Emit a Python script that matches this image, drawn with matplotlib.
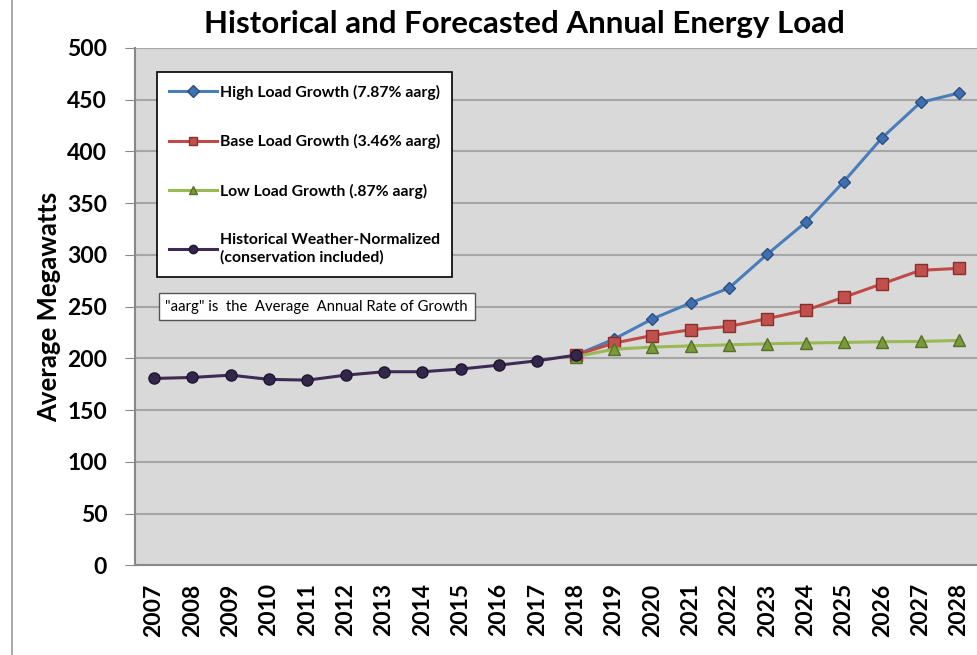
import numpy as np
import matplotlib.pyplot as plt
from matplotlib.lines import Line2D

plt.rcParams['font.family'] = ['Lato', 'DejaVu Sans']

years = list(range(2007, 2029))
hist_years = list(range(2007, 2019))
fc_years = list(range(2018, 2029))

historical = [180.5, 181.5, 183.7, 179.6, 178.9, 183.7, 187, 187, 189.6, 193.4, 197.6, 203]
high = [203, 218.5, 238, 253.5, 267.8, 300.5, 331.3, 370.8, 413.2, 447.2, 456.3]
base = [203, 214.7, 222, 227.6, 230.8, 238.3, 246.4, 259, 272, 285, 286.9]
low = [201.5, 208.8, 210.8, 212, 213, 214, 214.7, 215.3, 216, 216.3, 217.2]

labels = ['High Load Growth (7.87% aarg)', 'Base Load Growth (3.46% aarg)',
          'Low Load Growth (.87% aarg)', 'Historical Weather-Normalized\n(conservation included)']

fig = plt.figure(figsize=(9.78, 6.55), dpi=100)
ax = fig.add_axes([0.138, 0.137, 0.862, 0.79])
ax.set_facecolor('#d9d9d9')

xi = lambda ys: [years.index(y) for y in ys]

ax.plot(xi(fc_years), high, color='#4a7ebb', lw=2.2, marker='D', ms=6,
        mfc='#3f6fb0', mec='#2c4f80', label=labels[0], zorder=3)
ax.plot(xi(fc_years), base, color='#be4b48', lw=2.2, marker='s', ms=8,
        mfc='#c0504d', mec='#8c2f2c', label=labels[1], zorder=3)
ax.plot(xi(fc_years), low, color='#98b954', lw=2.2, marker='^', ms=8,
        mfc='#7a9a3a', mec='#56702a', label=labels[2], zorder=3)
ax.plot(xi(hist_years), historical, color='#3d2b56', lw=2.2, marker='o', ms=8,
        mfc='#32264a', mec='#1f1630', label=labels[3], zorder=4)

ax.set_xlim(-0.5, len(years) - 0.5)
ax.set_ylim(0, 500)
ax.set_yticks(np.arange(0, 501, 50))
ax.set_xticks(range(len(years)))
ax.set_xticklabels([str(y) for y in years], rotation=90, fontsize=16.5, fontweight='bold')
for t in ax.get_yticklabels():
    t.set_fontsize(16.5)
    t.set_fontweight('bold')
ax.tick_params(axis='x', length=0, pad=13)
ax.tick_params(axis='y', length=7, color='#888888', direction='out', pad=13)
ax.grid(axis='y', color='#a6a6a6', lw=1.5)
ax.set_axisbelow(True)
for s in ['top', 'right']:
    ax.spines[s].set_visible(False)
for s in ['left', 'bottom']:
    ax.spines[s].set_color('#888888')
    ax.spines[s].set_linewidth(1.5)

ax.set_ylabel('Average Megawatts', fontsize=18.5, fontweight='bold', labelpad=4)
fig.suptitle('Historical and Forecasted Annual Energy Load', fontsize=22.5,
             fontweight='bold', x=0.536, y=0.985)

leg = ax.legend(loc='upper left', bbox_to_anchor=(0.026, 0.953),
                prop={'weight': 'bold', 'size': 11.3}, labelspacing=2.2,
                handlelength=3.0, handletextpad=0.2, borderpad=0.8,
                borderaxespad=0, fancybox=False, framealpha=1, edgecolor='black')
leg.get_frame().set_linewidth(1.2)
for h in leg.legend_handles:
    h.set_markersize(6)

ax.text(0.036, 0.5, '"aarg" is  the  Average  Annual Rate of Growth', transform=ax.transAxes,
        fontsize=10.7, va='center', ha='left',
        bbox=dict(boxstyle='square,pad=0.45', fc='white', ec='#555555', lw=1))

fig.add_artist(Line2D([0.012, 0.012], [0, 1], color='#999999', lw=1.2))

fig.savefig('out.png', dpi=100)
